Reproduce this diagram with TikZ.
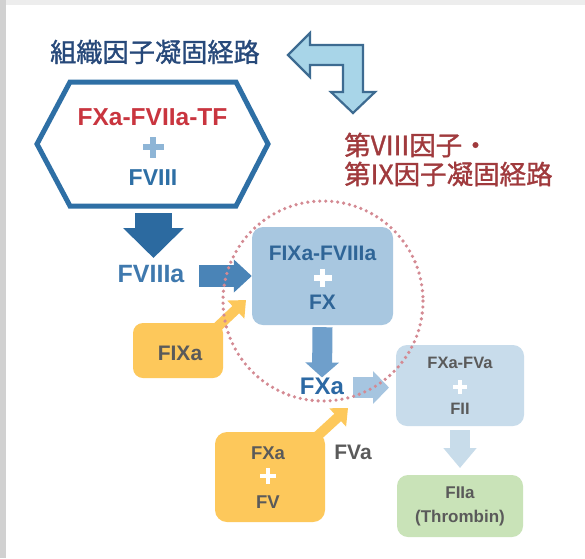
\documentclass[tikz,border=0pt]{standalone}
\usepackage{fontspec}
\setmainfont{Liberation Sans}
\newfontfamily\jpfont[FakeBold=1.2]{Noto Sans CJK JP}
\usetikzlibrary{arrows.meta}
\definecolor{titleblue}{HTML}{27497A}
\definecolor{titlered}{HTML}{A03A3D}
\definecolor{hexblue}{HTML}{2E6FA5}
\definecolor{hexred}{HTML}{C9353F}
\definecolor{pluslight}{HTML}{8EB5D6}
\definecolor{arrowdark}{HTML}{2C6AA0}
\definecolor{fviiiablue}{HTML}{3F79AE}
\definecolor{arrowmid}{HTML}{4A84B7}
\definecolor{boxone}{HTML}{A8C7E0}
\definecolor{boxonetext}{HTML}{2F6597}
\definecolor{circlepink}{HTML}{D48A93}
\definecolor{yellowbox}{HTML}{FDC85B}
\definecolor{graytext}{HTML}{5A5A5A}
\definecolor{arrowthree}{HTML}{6F9FCB}
\definecolor{fxablue}{HTML}{2C69A4}
\definecolor{arrowfour}{HTML}{A6C5E0}
\definecolor{boxtwo}{HTML}{C8DCEB}
\definecolor{arrowfive}{HTML}{C8DCEA}
\definecolor{greenbox}{HTML}{C9E3B8}
\definecolor{bentfill}{HTML}{A8D5E8}
\definecolor{bentdraw}{HTML}{3D6B91}
\newcommand{\plusmark}[4]{% color, x, y, half-size
  \fill[#1] (#2-#4,#3-#4*0.3) rectangle (#2+#4,#3+#4*0.3);
  \fill[#1] (#2-#4*0.3,#3-#4) rectangle (#2+#4*0.3,#3+#4);}
\begin{document}
\begin{tikzpicture}[x=1pt,y=-1pt,
  lbl/.style={inner sep=0pt, font=\bfseries\fontsize{#1}{#1}\selectfont},
  jplbl/.style={inner sep=0pt, anchor=west, font=\jpfont\fontsize{#1}{#1}\selectfont},
  rbox/.style={rectangle, rounded corners=11pt, inner sep=0pt},
  blockarrow/.style={line width=#1}
]
\useasboundingbox (0,0) rectangle (585,558);
\fill[white] (0,0) rectangle (585,558);
\fill[black!18] (0,0) rectangle (6,558);
\fill[black!7] (6,0) rectangle (585,5);

% titles
\node[jplbl=26.2, text=titleblue] (t1) at (50,52) {組織因子凝固経路};
\node[jplbl=26.5, text=titlered] (t2) at (344,145) {第VIII因子・};
\node[jplbl=26.5, text=titlered] (t3) at (344,174) {第IX因子凝固経路};

% bent arrow
\draw[fill=bentfill, draw=bentdraw, line width=2.2pt, line join=miter]
  (288,55) -- (310,33) -- (310,45) -- (363,45) -- (363,92) -- (375,92)
  -- (353,113) -- (331,92) -- (343,92) -- (343,65) -- (310,65) -- (310,77) -- cycle;

% hexagon
\node[inner sep=0pt, minimum width=231pt, minimum height=124pt] (hex) at (152.5,144) {};
\draw[hexblue, line width=5pt, line join=miter]
  (37,144) -- (70,82) -- (236,82) -- (268,144) -- (236,206) -- (70,206) -- cycle;
\node[lbl=24.5, text=hexred] (h1) at (152.5,117) {FXa-FVIIa-TF};
\plusmark{pluslight}{153}{147}{10.5}
\node[lbl=23, text=hexblue] (h2) at (153,178) {FVIII};

% FVIIIa
\node[lbl=25, text=fviiiablue] (fviiia) at (151,274) {FVIIIa};
\coordinate (a1s) at (153.5,213);
\coordinate (a1e) at (153.5,258);
\draw[arrowdark, blockarrow=37pt, -{Triangle[length=30pt, width=59pt]}] (a1s) -- (a1e);

% box one
\node[rbox, fill=boxone, minimum width=141pt, minimum height=98pt] (b1) at (322.5,276) {};
\node[lbl=21, text=boxonetext] (b1a) at (322.5,253) {FIXa-FVIIIa};
\plusmark{white}{322.5}{278}{9}
\node[lbl=21, text=boxonetext] (b1b) at (322.5,302) {FX};
\coordinate (a2s) at (199,276);
\draw[arrowmid, blockarrow=22pt, -{Triangle[length=18pt, width=32pt]}] (a2s) -- (b1.west);

% FIXa yellow
\node[rbox, rounded corners=10pt, fill=yellowbox, minimum width=90pt, minimum height=55pt] (y1) at (178,350.5) {};
\node[lbl=21, text=graytext] (y1t) at (180,353) {FIXa};
\coordinate (y1s) at (212,332);
\coordinate (y1e) at (246,300);
\draw[yellowbox, blockarrow=10pt, -{Triangle[length=14pt, width=24pt]}] (y1s) -- (y1e);

% FXa
\node[lbl=24, text=fxablue] (fxa) at (322,386) {FXa};
\draw[arrowthree, blockarrow=20pt, -{Triangle[length=15pt, width=33pt]}] (b1.south) ++(0,2) -- (fxa.north);

% box two
\node[rbox, fill=boxtwo, minimum width=128pt, minimum height=81pt] (b2) at (460,385.5) {};
\node[lbl=16.5, text=graytext] (b2a) at (460,363) {FXa-FVa};
\plusmark{white}{460}{387}{7}
\node[lbl=16.5, text=graytext] (b2b) at (460,409) {FII};
\coordinate (a4s) at (353,387.5);
\coordinate (a4e) at (389,387.5);
\draw[arrowfour, blockarrow=21pt, -{Triangle[length=16pt, width=32pt]}] (a4s) -- (a4e);

% box three
\node[rbox, fill=greenbox, minimum width=126pt, minimum height=62pt] (b3) at (460,506) {};
\node[lbl=17, text=graytext] (b3a) at (460,493) {FIIa};
\node[lbl=17, text=graytext] (b3b) at (460,518) {(Thrombin)};
\coordinate (a5s) at (460,430);
\coordinate (a5e) at (460,468);
\draw[arrowfive, blockarrow=20pt, -{Triangle[length=20pt, width=32pt]}] (a5s) -- (a5e);

% FXa + FV yellow
\node[rbox, rounded corners=12pt, fill=yellowbox, minimum width=110pt, minimum height=90pt] (y2) at (270,477) {};
\node[lbl=18.5, text=graytext] (y2a) at (268,453) {FXa};
\plusmark{white}{268}{476}{8}
\node[lbl=18.5, text=graytext] (y2b) at (268,502) {FV};
\coordinate (y2s) at (312,441);
\coordinate (y2e) at (348,408);
\draw[yellowbox, blockarrow=10pt, -{Triangle[length=14pt, width=24pt]}] (y2s) -- (y2e);
\node[lbl=21, text=graytext] (fva) at (353,452) {FVa};

% dotted circle
\draw[circlepink, line width=3.6pt, line cap=round, dash pattern=on 0pt off 6pt] (323,301) circle (100);
\end{tikzpicture}
\end{document}
